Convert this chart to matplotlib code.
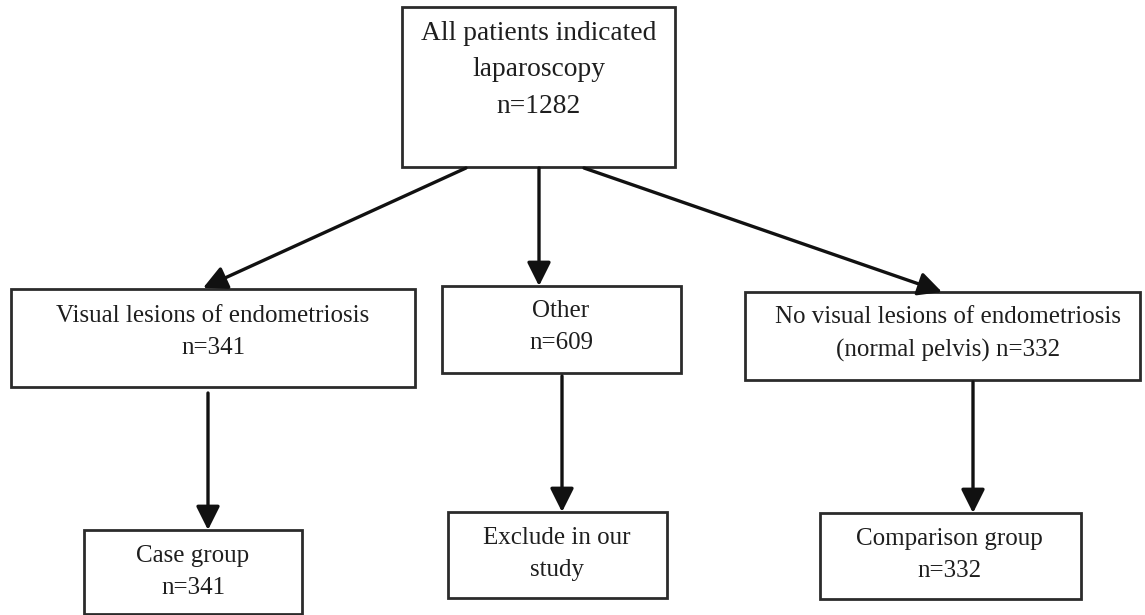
import matplotlib.pyplot as plt

# flowchart content
node_titles = ['All patients indicated\nlaparoscopy',
               'Visual lesions of endometriosis',
               'Other',
               'No visual lesions of endometriosis\n(normal pelvis)',
               'Case group',
               'Exclude in our\nstudy',
               'Comparison group']
node_counts = [1282, 341, 609, 332, 341, None, 332]
count_inline = [False, False, False, True, False, False, False]
edges = [(0, 1), (0, 2), (0, 3), (1, 4), (2, 5), (3, 6)]

# layout in pixel units (x0, y0, x1, y1), y grows downward
box_layout = [(402, 7, 675, 167),
              (11, 289, 415, 387),
              (442, 286, 681, 373),
              (745, 292, 1140, 380),
              (84, 530, 302, 614),
              (448, 512, 667, 598),
              (820, 513, 1081, 599)]
text_centers = [(539, 70), (213, 332), (561, 327), (948, 334),
                (193, 572), (557, 554), (949, 555)]
font_sizes = [19.8, 18, 18, 18, 18, 18, 18]
arrow_layout = [((466, 168), (203, 288)),
                ((539, 168), (539, 286)),
                ((584, 168), (942, 292)),
                ((208, 393), (208, 530)),
                ((562, 376), (562, 512)),
                ((973, 382), (973, 513))]

edgeColor = '#2b2b2b'
textColor = '#1e1e1e'


def makeLabel(title: str, count, inline: bool) -> str:
    """
    Builds the text shown inside a box
    """
    if count is None:
        return title
    if inline:
        return f'{title} n={count}'
    return f'{title}\nn={count}'


fig = plt.figure(figsize=(11.45, 6.15), dpi=100)
ax = fig.add_axes([0, 0, 1, 1])
ax.set_xlim(0, 1145)
ax.set_ylim(615, 0)
ax.axis('off')

for i, title in enumerate(node_titles):
    x0, y0, x1, y1 = box_layout[i]
    ax.add_patch(plt.Rectangle((x0, y0), x1 - x0, y1 - y0, fill=False,
                               edgecolor=edgeColor, linewidth=2.0))
    cx, cy = text_centers[i]
    ax.text(cx, cy, makeLabel(title, node_counts[i], count_inline[i]),
            ha='center', va='center', fontsize=font_sizes[i],
            family='Liberation Serif', color=textColor, linespacing=1.6)

for (src, dst), (start, end) in zip(edges, arrow_layout):
    ax.annotate('', xy=end, xytext=start,
                arrowprops=dict(arrowstyle='-|>,head_length=0.6,head_width=0.3',
                                color='#111111', lw=2.4, mutation_scale=24,
                                shrinkA=0, shrinkB=0))

fig.savefig('out.png', dpi=100)
